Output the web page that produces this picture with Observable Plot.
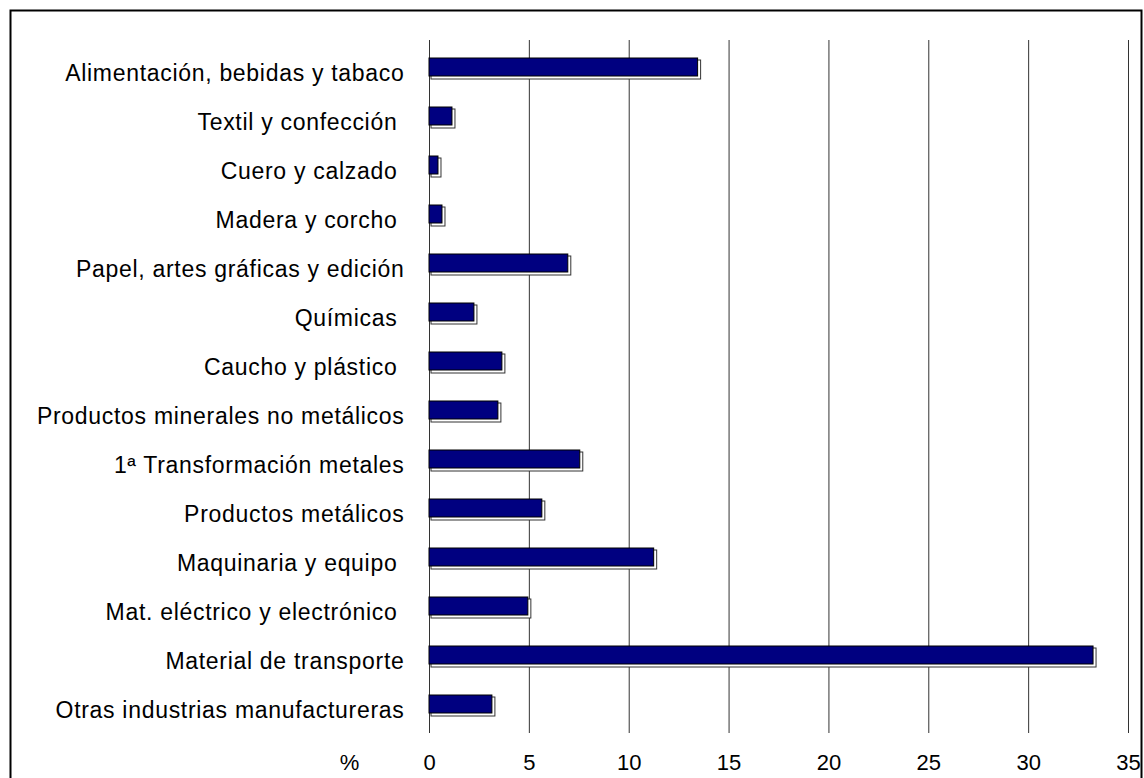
<!DOCTYPE html>
<html>
<head>
<meta charset="utf-8">
<script src="https://cdn.jsdelivr.net/npm/d3@7"></script>
<script src="https://cdn.jsdelivr.net/npm/@observablehq/plot@0.6"></script>
<style>
  html, body { margin: 0; padding: 0; background: #fff; }
  svg text { white-space: pre; }
</style>
</head>
<body>
<div id="chart"></div>
<script>
// Categories (top to bottom) — some original labels carry a trailing space
const categories = [
  "Alimentación, bebidas y tabaco",
  "Textil y confección ",
  "Cuero y calzado ",
  "Madera y corcho ",
  "Papel, artes gráficas y edición",
  "Químicas ",
  "Caucho y plástico ",
  "Productos minerales no metálicos",
  "1ª Transformación metales",
  "Productos metálicos",
  "Maquinaria y equipo ",
  "Mat. eléctrico y electrónico ",
  "Material de transporte",
  "Otras industrias manufactureras"
];
// Share (%) per sector
const values = [13.6, 1.3, 0.6, 0.8, 7.1, 2.4, 3.8, 3.6, 7.7, 5.8, 11.4, 5.1, 33.4, 3.3];
// X axis ticks
const xTicks = [0, 5, 10, 15, 20, 25, 30, 35];
const axisTitle = ["%"];

const data = categories.map((c, i) => ({category: c, value: values[i]}));

const chart = Plot.plot({
  width: 1144,
  height: 778,
  marginLeft: 429,
  marginRight: 16,
  marginTop: 40,
  marginBottom: 45,
  style: {fontFamily: "'Liberation Sans', Arial, sans-serif", background: "#fff", color: "#000"},
  x: {domain: [0, 35], ticks: xTicks},
  y: {domain: categories, paddingInner: 0.58, paddingOuter: 0.29},
  marks: [
    Plot.gridX(xTicks, {stroke: "#333", strokeOpacity: 1, strokeWidth: 1}),
    // shadow / highlight layer
    Plot.barX(data, {x: "value", y: "category", fill: "#fff", stroke: "#333", strokeWidth: 1, insetLeft: 2, insetTop: 2}),
    // main navy bar
    Plot.barX(data, {x: "value", y: "category", fill: "#000080", stroke: "#000", strokeWidth: 1, insetRight: 3, insetBottom: 3}),
    Plot.axisY({tickSize: 0, tickPadding: 25, fontSize: 23, dy: 5, label: null, textAnchor: "end"}),
    Plot.axisX(xTicks, {tickSize: 0, tickPadding: 21, fontSize: 22, label: null}),
    Plot.text(axisTitle, {x: 0, text: d => d, frameAnchor: "bottom", lineAnchor: "middle", dx: -80, dy: 29, fontSize: 22})
  ]
});

// letter spacing on category labels to match the wider original rendering
d3.select(chart).selectAll("g[aria-label='y-axis tick label'] text").style("letter-spacing", "0.7px");

// outer chart border
d3.select(chart).append("rect")
  .attr("x", 10.5).attr("y", 10.5)
  .attr("width", 1131).attr("height", 800)
  .attr("fill", "none").attr("stroke", "#000").attr("stroke-width", 2);

document.getElementById("chart").appendChild(chart);
</script>
</body>
</html>
